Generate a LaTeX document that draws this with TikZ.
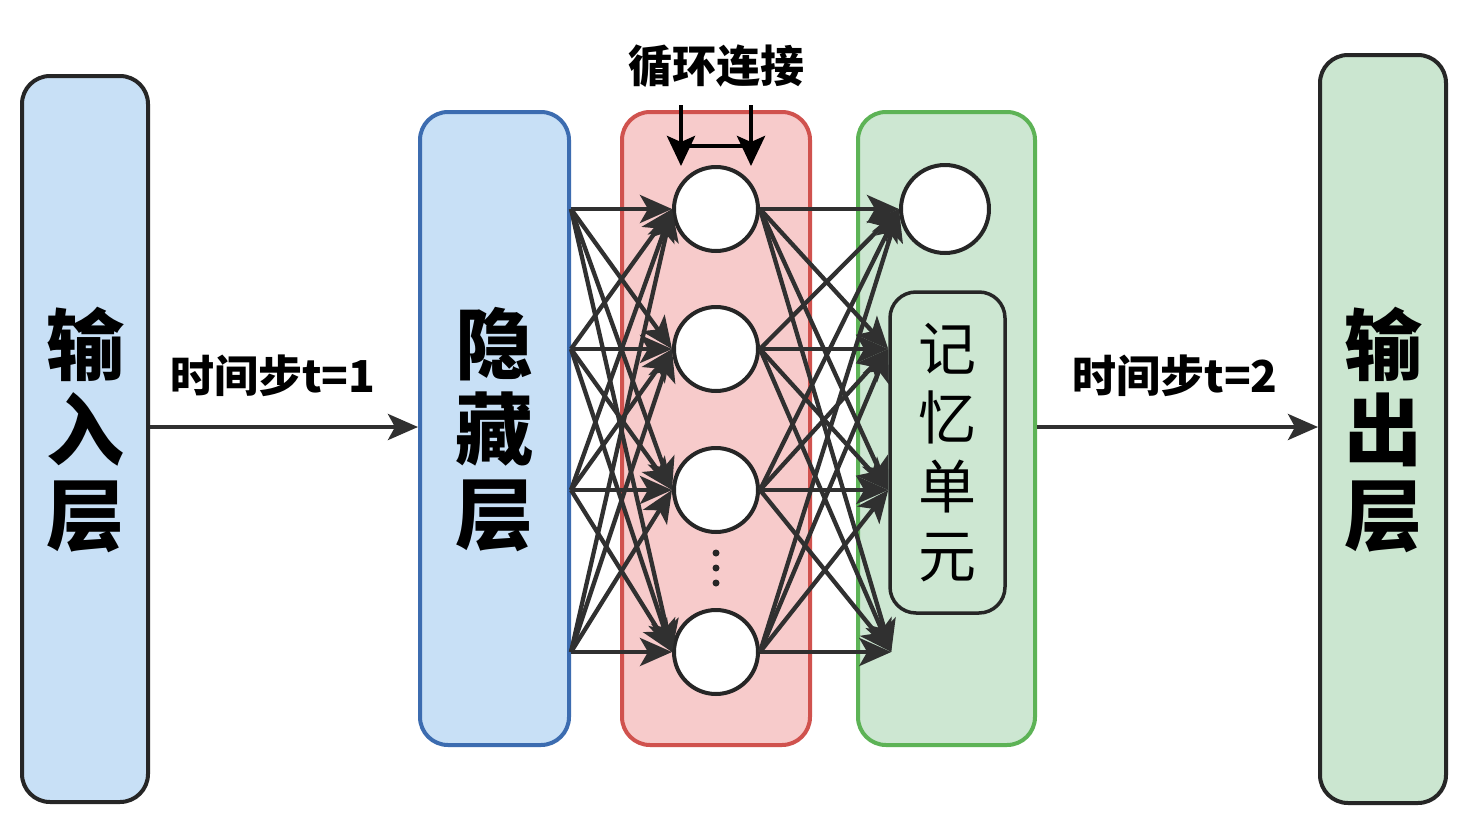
\documentclass[tikz,border=0pt]{standalone}
\usepackage{fontspec}
\setmainfont{Noto Sans CJK SC}
\usetikzlibrary{arrows.meta,calc}
\definecolor{inblue}{HTML}{C8E0F6}
\definecolor{hidborder}{HTML}{3C6CB0}
\definecolor{redfill}{HTML}{F7CBCB}
\definecolor{redborder}{HTML}{D0524E}
\definecolor{greenfill}{HTML}{CDE7D2}
\definecolor{greenborder}{HTML}{5DB356}
\definecolor{outfill}{HTML}{CBE6D0}
\definecolor{darkline}{HTML}{262626}
\definecolor{arrowc}{HTML}{303030}
\tikzset{
  layerbox/.style={draw, line width=4pt, rounded corners=28pt, inner sep=0pt},
  neuron/.style={circle, draw=darkline, line width=4pt, fill=white, minimum size=84pt, inner sep=0pt},
  memcell/.style={draw=darkline, line width=3.5pt, rounded corners=26pt, inner sep=0pt, minimum width=115pt, minimum height=321pt},
  bigtxt/.style={font=\fontsize{78pt}{85pt}\selectfont\bfseries, align=center, inner sep=0pt},
  memtxt/.style={font=\fontsize{58pt}{69pt}\selectfont, align=center, inner sep=0pt},
  lbltxt/.style={font=\fontsize{44pt}{48pt}\selectfont\bfseries, inner sep=0pt},
  conn/.style={draw=arrowc, line width=4.3pt, -{Stealth[length=32pt,width=28pt,inset=8pt]}},
  recarrow/.style={draw=black, line width=4.5pt, -{Stealth[length=30pt,width=28pt,inset=6pt]}},
  mainarrow/.style={draw=arrowc, line width=4pt, -{Stealth[length=30pt,width=26pt,inset=7pt]}},
  dotnode/.style={circle, fill=darkline, minimum size=7pt, inner sep=0pt}
}
\begin{document}
\begin{tikzpicture}[x=1pt,y=-1pt]
\useasboundingbox (0,0) rectangle (1468,830);
\fill[white] (0,0) rectangle (1468,830);

% layer boxes
\node[layerbox, draw=darkline, fill=inblue, minimum width=126pt, minimum height=726pt] (in) at (85,439) {};
\node[layerbox, draw=hidborder, fill=inblue, minimum width=149pt, minimum height=633pt] (hid) at (494.5,428.5) {};
\node[layerbox, draw=redborder, fill=redfill, minimum width=188pt, minimum height=633pt] (red) at (716,428.5) {};
\node[layerbox, draw=greenborder, fill=greenfill, minimum width=177pt, minimum height=633pt] (grn) at (946.5,428.5) {};
\node[layerbox, draw=darkline, fill=outfill, minimum width=126pt, minimum height=748pt] (out) at (1383,429) {};

% layer texts
\node[bigtxt] (intxt) at (85,430) {输\\入\\层};
\node[bigtxt] (hidtxt) at (494,430) {隐\\藏\\层};
\node[bigtxt] (outtxt) at (1383,430) {输\\出\\层};

% neurons
\node[neuron] (n1) at (716,209) {};
\node[neuron] (n2) at (716,349) {};
\node[neuron] (n3) at (716,490) {};
\node[neuron] (n4) at (716,652) {};
\node[dotnode] (d1) at (716,553) {};
\node[dotnode] (d2) at (716,568) {};
\node[dotnode] (d3) at (716,583) {};

\node[neuron, minimum size=88pt] (g1) at (945,209) {};
\node[memcell, fill=greenfill] (mem) at (947.5,452.5) {};
\node[memtxt] (memtxt) at (947,453) {记\\忆\\单\\元};

% hidden -> red
\foreach \i in {1,2,3,4}{
  \coordinate (s\i) at (hid.east |- n\i);
}
\foreach \i in {1,2,3,4}{
  \foreach \j in {1,2,3,4}{
    \draw[conn] (s\i) -- (n\j.west);
  }
}

% red -> green
\coordinate (t1) at (g1.west);
\coordinate (t2) at (mem.west |- n2);
\coordinate (t3) at (mem.west |- n3);
\coordinate (t4) at ($(mem.west |- n4)+(3,0)$);
\foreach \i in {1,2,3,4}{
  \foreach \j in {1,2,3,4}{
    \draw[conn] (n\i.east) -- (t\j);
  }
}

% recurrent connection
\node[lbltxt] (rectxt) at (716,66) {循环连接};
\coordinate (ra0) at (681,105);
\coordinate (ra1) at (681,166);
\coordinate (rb0) at (751,105);
\coordinate (rb1) at (751,166);
\coordinate (rh0) at (681,146);
\coordinate (rh1) at (751,146);
\draw[recarrow] (ra0) -- (ra1);
\draw[recarrow] (rb0) -- (rb1);
\draw[black, line width=4.5pt] (rh0) -- (rh1);

% time step arrows
\draw[mainarrow] (in.east |- 0,427) -- (hid.west |- 0,427);
\node[lbltxt] (t1txt) at (273,376) {时间步t=1};
\draw[mainarrow] (grn.east |- 0,427) -- (out.west |- 0,427);
\node[lbltxt] (t2txt) at (1175,376) {时间步t=2};
\end{tikzpicture}
\end{document}
